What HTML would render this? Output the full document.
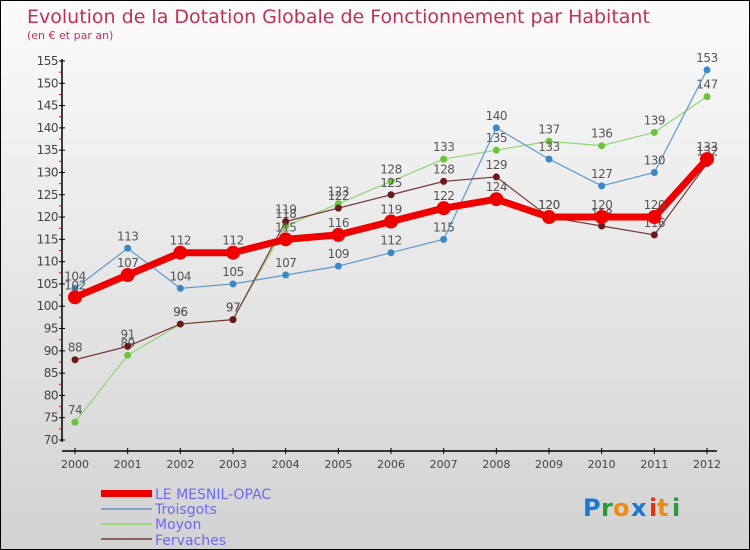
<!DOCTYPE html>
<html><head><meta charset="utf-8"><style>
body{margin:0}
#wrap{position:relative;width:748px;height:548px;border:1px solid #000;background:linear-gradient(#fbfbfb,#d2d2d2);overflow:hidden;font-family:"DejaVu Sans","Liberation Sans",sans-serif}
</style></head><body>
<div id="wrap">
<svg id="chart" width="748" height="548">
<text x="26" y="22" font-size="19" fill="#c0305a">Evolution de la Dotation Globale de Fonctionnement par Habitant</text>
<text x="26" y="38" font-size="11" fill="#c0305a">(en € et par an)</text>
<g id="axes"></g><g id="series"></g>
<g>
<rect x="100" y="489" width="51" height="7" fill="#e00"/>
<text x="154" y="498" font-size="14" fill="#6a6af0">LE MESNIL-OPAC</text>
<rect x="100" y="507" width="51" height="2" fill="#7fa8c8"/>
<text x="154" y="513" font-size="14" fill="#6a6af0">Troisgots</text>
<rect x="100" y="522" width="51" height="2" fill="#9ad87a"/>
<text x="154" y="528" font-size="14" fill="#6a6af0">Moyon</text>
<rect x="100" y="537" width="51" height="2" fill="#8a6464"/>
<text x="154" y="544" font-size="14" fill="#6a6af0">Fervaches</text>
</g>
<g font-size="24" font-family="'DejaVu Sans',sans-serif" font-weight="bold">
<text x="582" y="515" fill="#1a78d0">P</text><text x="600" y="515" fill="#2a9a3a">r</text><text x="612" y="515" fill="#f08a10">o</text><text x="630" y="515" fill="#1a78d0">x</text><text x="648" y="515" fill="#e83010">i</text><text x="656" y="515" fill="#f08a10">t</text><text x="671" y="515" fill="#2a9a3a">i</text>
</g>
</svg>
</div>
<script>
const years=[2000,2001,2002,2003,2004,2005,2006,2007,2008,2009,2010,2011,2012];
const mesnil=[102,107,112,112,115,116,119,122,124,120,120,120,133];
const troisgots=[104,113,104,105,107,109,112,115,140,133,127,130,153];
const moyon=[74,89,96,97,118,123,128,133,135,137,136,139,147];
const fervaches=[88,91,96,97,119,122,125,128,129,120,118,116,132];
const yTicks=[70,75,80,85,90,95,100,105,110,115,120,125,130,135,140,145,150,155];
const NS="http://www.w3.org/2000/svg";
const x=i=>74+(706-74)*(i/(years.length-1));
const y=v=>439-(v-70)*(439-60)/85;
function mk(t,a,p){const e=document.createElementNS(NS,t);for(const k in a)e.setAttribute(k,a[k]);p.appendChild(e);return e;}
const ax=document.getElementById('axes');
const yl=mk('line',{x1:61,y1:58,x2:61,y2:441,stroke:'#000','stroke-width':1.5},ax);


const xl=mk('line',{x1:61,y1:450,x2:716,y2:450,stroke:'#000','stroke-width':1.5},ax);


yTicks.forEach(v=>{
 mk('line',{x1:58,y1:y(v),x2:64,y2:y(v),stroke:'#000'},ax);
 if(v<155) mk('line',{x1:58,y1:y(v+2.5),x2:61,y2:y(v+2.5),stroke:'#e00'},ax);
 const t=mk('text',{x:57,y:y(v)+4,'font-size':12,fill:'#444','text-anchor':'end','letter-spacing':'-0.5'},ax);
 t.textContent=v;
 
 
});
years.forEach((yr,i)=>{
 mk('line',{x1:x(i),y1:447,x2:x(i),y2:453,stroke:'#000'},ax);
 const t=mk('text',{x:x(i),y:467,'font-size':11,fill:'#444','text-anchor':'middle'},ax);
 t.textContent=yr;
 
 
});
const sg=document.getElementById('series');
function series(data,name,color,w,r,dot,lblColor){
 const g=mk('g',{},sg);
 
 
 const pl=mk('polyline',{points:data.map((v,i)=>x(i)+','+y(v)).join(' '),fill:'none',stroke:color,'stroke-width':w,'stroke-linejoin':'round'},g);
 
 
 data.forEach((v,i)=>{
  const c=mk('circle',{cx:x(i),cy:y(v),r:r,fill:dot},g);
  
  
  const t=mk('text',{x:x(i),y:y(v)-8,'font-size':12,fill:lblColor,'text-anchor':'middle','letter-spacing':'-0.5'},g);
  t.textContent=v;
  
  
 });
}
series(moyon,'moyon','#8fd870',1.2,3.5,'#6ac43a','#555');
series(troisgots,'troisgots','#5a9ad0',1.2,3.5,'#3a88c8','#555');
series(fervaches,'fervaches','#7a3a3a',1.2,3.5,'#6a1a1a','#555');
series(mesnil,'le-mesnil-opac','#ee0000',7,7,'#ee0000','#555');
</script>
</body></html>
